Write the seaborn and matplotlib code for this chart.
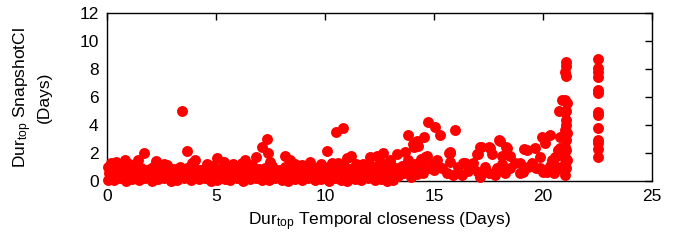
import numpy as np
import pandas as pd
import seaborn as sns
import matplotlib
matplotlib.use("Agg")
import matplotlib.pyplot as plt

# dense band near the bottom (x 0..15), three rough rows
band_low_x = [0.02, 0.3, 0.58, 0.87, 1.15, 1.46, 1.74, 2.05, 2.33, 2.62, 2.94, 3.21, 3.52, 3.85, 4.2,
              4.47, 4.78, 5.06, 5.39, 5.66, 5.97, 6.25, 6.56, 6.84, 7.13, 7.45, 7.72, 8.04, 8.31, 8.63,
              8.92, 9.24, 9.55, 9.83, 10.16, 10.44, 10.75, 11.03, 11.36, 11.64, 11.95, 12.27, 12.55, 12.86, 13.14]
band_low_y = [0.1, 0.05, 0.2, 0.0, 0.15, 0.08, 0.22, 0.03, 0.12, 0.18, 0.0, 0.1, 0.25, 0.05, 0.14,
              0.2, 0.02, 0.1, 0.16, 0.06, 0.2, 0.0, 0.12, 0.18, 0.04, 0.1, 0.22, 0.08, 0.0, 0.15,
              0.1, 0.2, 0.05, 0.12, 0.02, 0.18, 0.1, 0.0, 0.14, 0.08, 0.2, 0.05, 0.12, 0.03, 0.1]

band_mid_x = [0.1, 0.4, 0.72, 1.0, 1.3, 1.6, 1.92, 2.2, 2.5, 2.8, 3.1, 3.42, 3.7, 4.0, 4.32, 4.62, 4.9,
              5.2, 5.5, 5.82, 6.1, 6.4, 6.7, 7.0, 7.3, 7.62, 7.9, 8.2, 8.5, 8.8, 9.1, 9.42, 9.7, 10.0,
              10.3, 10.6, 10.9, 11.2, 11.5, 11.8, 12.1, 12.4, 12.7, 13.0, 13.3, 13.6, 13.9, 14.2, 14.5]
band_mid_y = [0.6, 0.45, 0.7, 0.5, 0.65, 0.4, 0.55, 0.7, 0.45, 0.6, 0.5, 0.72, 0.4, 0.58, 0.66, 0.48, 0.6,
              0.42, 0.7, 0.55, 0.5, 0.68, 0.45, 0.6, 0.52, 0.7, 0.44, 0.6, 0.66, 0.5, 0.58, 0.42, 0.7, 0.55,
              0.48, 0.62, 0.5, 0.7, 0.45, 0.6, 0.55, 0.68, 0.5, 0.62, 0.45, 0.58, 0.7, 0.52, 0.6]

band_top_x = [0.05, 0.35, 0.62, 0.95, 1.22, 1.55, 1.85, 2.12, 2.45, 2.75, 3.05, 3.35, 3.65, 3.95, 4.25,
              4.55, 4.85, 5.15, 5.45, 5.75, 6.05, 6.35, 6.65, 6.95, 7.25, 7.55, 7.85, 8.15, 8.45, 8.75,
              9.05, 9.35, 9.65, 9.95, 10.25, 10.55, 10.85, 11.15, 11.45, 11.75, 12.05, 12.35, 12.65, 12.95,
              13.25, 13.55, 13.85, 14.15, 14.45, 14.75]
band_top_y = [1.0, 0.9, 1.1, 0.85, 1.05, 0.95, 0.8, 1.0, 0.9, 1.15, 0.85, 1.0, 0.95, 1.1, 0.8,
              0.9, 1.05, 0.85, 1.0, 0.92, 0.8, 1.0, 1.12, 0.88, 0.95, 1.05, 0.8, 0.98, 0.9, 1.1,
              0.85, 1.0, 0.92, 0.8, 1.05, 0.95, 1.1, 0.88, 1.0, 0.9, 1.15, 0.95, 1.05, 1.2,
              0.9, 1.1, 1.0, 1.25, 1.15, 0.95]

# extra fill between the rows
band_fill_x = [0.2, 0.75, 1.35, 1.95, 2.55, 3.15, 3.75, 4.35, 4.95, 5.55, 6.15, 6.75, 7.35, 7.95, 8.55,
               9.15, 9.75, 10.35, 10.95, 11.55, 12.15, 12.75, 13.35, 13.95, 14.3]
band_fill_y = [0.32, 0.8, 0.3, 0.85, 0.28, 0.78, 0.35, 0.82, 0.3, 0.8, 0.33, 0.85, 0.3, 0.78, 0.35,
               0.82, 0.3, 0.8, 0.33, 0.84, 0.3, 0.8, 0.35, 0.3, 0.85]

# bumps and outliers above the band
upper_x = [0.2, 0.4, 0.81, 1.0, 1.41, 1.7, 2.26, 2.6, 3.45, 3.66, 3.9, 4.04, 4.6, 5.06, 5.37, 5.8, 6.2,
           6.35, 6.83, 7.11, 7.36, 7.37, 7.48, 8.17, 8.39, 8.6, 8.93, 9.31, 9.8, 10.08, 10.3, 10.5,
           10.6, 10.81, 11.0, 11.18, 11.4, 11.73, 12.06, 12.37, 12.5, 12.68, 12.98, 13.0, 13.29,
           13.67, 13.8, 13.82, 14.05, 14.08, 14.2, 14.28, 14.4, 14.56, 14.59, 14.66, 14.71, 14.9]
upper_y = [1.3, 1.38, 1.5, 1.25, 1.5, 2.0, 1.4, 1.2, 5.0, 2.14, 1.3, 1.5, 1.25, 1.64, 1.36, 1.2, 1.3,
           1.52, 1.69, 2.43, 3.02, 2.0, 1.36, 1.76, 1.5, 1.2, 1.14, 1.38, 1.2, 2.13, 1.26, 3.5,
           1.3, 3.76, 1.67, 1.79, 1.25, 1.19, 1.74, 1.81, 1.35, 2.02, 1.5, 1.4, 1.95,
           2.06, 1.5, 3.26, 2.62, 2.45, 2.86, 2.52, 1.6, 3.17, 1.74, 1.79, 4.24, 1.3]

# sparser region 15..21
tail_x = [15.0, 15.05, 15.12, 15.28, 15.35, 15.6, 15.69, 15.71, 15.73, 15.73, 15.89, 15.96, 16.1,
          16.27, 16.34, 16.42, 16.55, 16.8, 16.8, 16.96, 17.0, 17.03, 17.11, 17.11, 17.14, 17.35,
          17.5, 17.52, 17.57, 17.67, 17.8, 17.87, 18.0, 18.03, 18.1, 18.1, 18.26, 18.29, 18.33,
          18.49, 18.5, 18.72, 18.94, 18.94, 19.1, 19.14, 19.25, 19.3, 19.5, 19.63, 19.7, 19.86,
          19.86, 19.94, 20.01, 20.09, 20.17, 20.3, 20.32, 20.4, 20.5, 20.55, 20.63, 20.7, 20.72,
          20.72, 20.78, 20.78, 20.78, 20.86]
tail_y = [0.8, 3.88, 1.5, 3.26, 0.9, 0.6, 2.02, 2.1, 1.38, 1.98, 0.43, 3.62, 1.0,
          0.43, 1.26, 1.26, 0.75, 0.9, 1.26, 1.9, 0.65, 1.9, 0.31, 2.4, 2.4, 1.0,
          0.6, 2.45, 2.33, 1.93, 0.43, 0.9, 2.93, 2.86, 1.2, 1.76, 0.55, 2.4, 2.33,
          1.79, 0.9, 1.26, 0.55, 1.26, 0.67, 2.26, 2.21, 1.0, 1.3, 2.33, 0.9, 1.74,
          0.9, 3.17, 0.67, 2.69, 0.67, 1.1, 3.29, 1.5, 0.6, 1.74, 1.02, 2.21, 5.02,
          1.86, 3.12, 2.33, 0.9, 5.79]

# the two vertical columns on the right
col21_x = [21.0, 21.05, 21.0, 21.08, 21.02, 21.05, 21.0, 21.06, 21.02, 21.08, 21.0, 21.04,
           21.06, 21.0, 21.05, 21.08, 21.02, 21.05, 21.02, 21.06, 21.04]
col21_y = [0.4, 0.9, 1.26, 1.5, 1.74, 2.21, 2.45, 2.93, 3.05, 3.4, 3.64, 4.0,
           4.36, 4.95, 5.02, 5.55, 5.79, 7.5, 7.81, 8.21, 8.52]

col22_x = [22.5] * 13
col22_y = [8.69, 8.05, 7.81, 7.45, 6.5, 6.31, 4.95, 4.71, 3.76, 2.93, 2.69, 2.26, 1.74]

xs = band_low_x + band_mid_x + band_top_x + band_fill_x + upper_x + tail_x + col21_x + col22_x
ys = band_low_y + band_mid_y + band_top_y + band_fill_y + upper_y + tail_y + col21_y + col22_y
df = pd.DataFrame({"x": xs, "y": ys})

sns.set_style("white")
plt.rcParams["font.family"] = ["Liberation Sans", "DejaVu Sans"]
plt.rcParams["mathtext.default"] = "regular"
plt.rcParams["text.color"] = "black"
plt.rcParams["axes.labelcolor"] = "black"

fig, ax = plt.subplots(figsize=(6.82, 2.42), dpi=100)
fig.subplots_adjust(left=0.157, right=0.956, bottom=0.252, top=0.946)

sns.scatterplot(data=df, x="x", y="y", ax=ax, color="#ff0000", s=62,
                linewidth=0, clip_on=False, legend=False, zorder=3)

ax.set_xlim(0, 25)
ax.set_ylim(0, 12)
ax.set_xticks([0, 5, 10, 15, 20, 25])
ax.set_yticks([0, 2, 4, 6, 8, 10, 12])
ax.tick_params(direction="in", top=True, right=True, length=5, width=1,
               labelsize=12.5, colors="black", pad=6)
for sp in ax.spines.values():
    sp.set_color("black")
    sp.set_linewidth(1)

ax.set_xlabel("Dur$_{top}$ Temporal closeness (Days)", fontsize=12.5, labelpad=4)
ax.set_ylabel("Dur$_{top}$ SnapshotCl\n(Days)", fontsize=12.5, labelpad=20)

fig.savefig("out.png", dpi=100)
